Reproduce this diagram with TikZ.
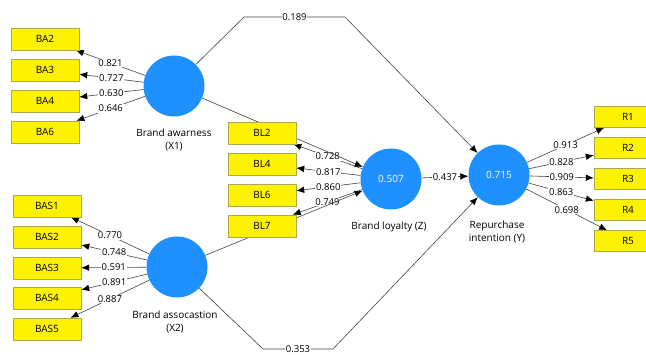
\documentclass[tikz,border=0pt]{standalone}
\usepackage{fontspec}
\setmainfont{Open Sans}
\usetikzlibrary{arrows.meta,backgrounds}
\definecolor{lvblue}{RGB}{30,144,255}
\definecolor{boxborder}{RGB}{170,170,80}
\definecolor{linegray}{RGB}{70,70,70}
\begin{document}
\begin{tikzpicture}[x=1pt,y=-1pt,
  ind/.style={draw=boxborder, fill=yellow, minimum width=68pt, minimum height=22pt, inner sep=0pt, font=\fontsize{10}{12}\selectfont},
  indr/.style={ind, minimum height=21pt},
  lv/.style={circle, fill=lvblue, minimum size=61pt, inner sep=0pt, text=white, font=\fontsize{10}{12}\selectfont},
  lvlabel/.style={align=center, font=\fontsize{10}{13}\selectfont, inner sep=0pt},
  arr/.style={draw=linegray, line width=0.6pt, -{Latex[length=8pt,width=6.5pt,color=black]}},
  wt/.style={fill=white, inner sep=0.8pt, font=\fontsize{9.5}{11}\selectfont, pos=0.5},
]
\useasboundingbox (0,0) rectangle (646,355);

% indicator boxes
\node[ind] (BA2) at (45,39) {BA2};
\node[ind] (BA3) at (45,70) {BA3};
\node[ind] (BA4) at (45,101) {BA4};
\node[ind] (BA6) at (45,132) {BA6};

\node[ind] (BAS1) at (47,206) {BAS1};
\node[ind] (BAS2) at (47,237) {BAS2};
\node[ind] (BAS3) at (47,268) {BAS3};
\node[ind] (BAS4) at (47,298) {BAS4};
\node[ind] (BAS5) at (47,329) {BAS5};

\node[ind] (BL2) at (262,133) {BL2};
\node[ind] (BL4) at (262,164) {BL4};
\node[ind] (BL6) at (262,195) {BL6};
\node[ind] (BL7) at (262,226) {BL7};

\node[indr] (R1) at (628,117) {R1};
\node[indr] (R2) at (628,148) {R2};
\node[indr] (R3) at (628,179) {R3};
\node[indr] (R4) at (628,210) {R4};
\node[indr] (R5) at (628,241) {R5};

% latent variables
\node[lv] (X1) at (174,86) {};
\node[lv] (X2) at (177,267) {};
\node[lv] (Z) at (391,179) {0.507};
\node[lv] (Y) at (499,175) {0.715};

\node[lvlabel] (X1lab) at (174,139.5) {Brand awarness\\(X1)};
\node[lvlabel] (X2lab) at (175,321.5) {Brand assocastion\\(X2)};
\node[lvlabel] (Zlab) at (389,227) {Brand loyalty (Z)};
\node[lvlabel] (Ylab) at (497,232) {Repurchase\\intention (Y)};

\coordinate (t1) at (244,17);
\coordinate (t2) at (345,17);
\coordinate (b1) at (263,349);
\coordinate (b2) at (333,349);

\begin{pgfonlayer}{background}
\fill[white] (0,0) rectangle (646,355);
% X1 loadings
\draw[arr] (X1) -- node[wt] {0.821} (BA2);
\draw[arr] (X1) -- node[wt] {0.727} (BA3);
\draw[arr] (X1) -- node[wt] {0.630} (BA4);
\draw[arr] (X1) -- node[wt] {0.646} (BA6);
% X2 loadings
\draw[arr] (X2) -- node[wt] {0.770} (BAS1);
\draw[arr] (X2) -- node[wt] {0.748} (BAS2);
\draw[arr] (X2) -- node[wt] {0.591} (BAS3);
\draw[arr] (X2) -- node[wt] {0.891} (BAS4);
\draw[arr] (X2) -- node[wt] {0.887} (BAS5);
% Z loadings
\draw[arr] (Z) -- node[wt] {0.728} (BL2);
\draw[arr] (Z) -- node[wt] {0.817} (BL4);
\draw[arr] (Z) -- node[wt] {0.860} (BL6);
\draw[arr] (Z) -- node[wt] {0.749} (BL7);
% Y loadings
\draw[arr] (Y) -- node[wt] {0.913} (R1);
\draw[arr] (Y) -- node[wt] {0.828} (R2);
\draw[arr] (Y) -- node[wt] {0.909} (R3);
\draw[arr] (Y) -- node[wt] {0.863} (R4);
\draw[arr] (Y) -- node[wt] {0.698} (R5);
% structural paths
\draw[arr] (Z) -- node[wt] {0.437} (Y);
\draw[arr] (X1) -- (t1) -- node[wt] {0.189} (t2) -- (Y);
\draw[arr] (X2) -- (b1) -- node[wt] {0.353} (b2) -- (Y);
\draw[arr] (X1) -- (Z);
\draw[arr] (X2) -- (Z);
\end{pgfonlayer}
\end{tikzpicture}
\end{document}
